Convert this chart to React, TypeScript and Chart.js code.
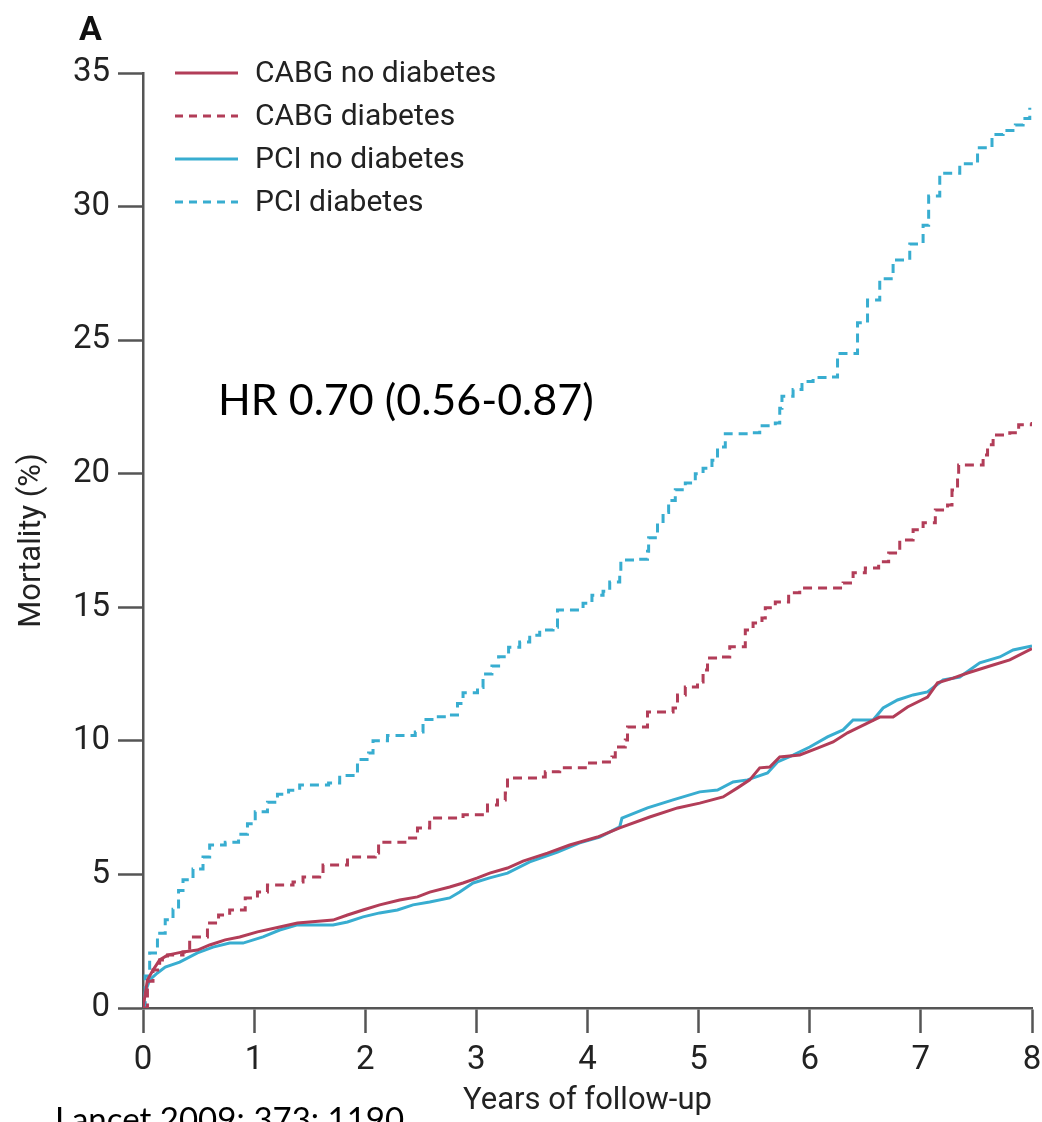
import React, { useEffect, useRef } from "react";
import { Chart, registerables } from "chart.js";

Chart.register(...registerables);

// Cumulative mortality (%) by years of follow-up, read as Kaplan-Meier style steps
const cabgNoDiabetesYears = [0, 0.04, 0.09, 0.15, 0.22, 0.36, 0.49, 0.6, 0.74, 0.87, 1.03, 1.23, 1.39, 1.71, 1.84, 1.98, 2.13, 2.31, 2.47, 2.58, 2.76, 2.88, 3.01, 3.12, 3.28, 3.42, 3.64, 3.84, 4.09, 4.29, 4.56, 4.81, 5.01, 5.22, 5.35, 5.46, 5.55, 5.64, 5.73, 5.91, 6.07, 6.21, 6.34, 6.45, 6.63, 6.75, 6.88, 7.06, 7.15, 7.29, 7.42, 7.65, 7.8, 8.0];
const cabgNoDiabetesMortality = [0, 1.05, 1.42, 1.8, 1.98, 2.1, 2.17, 2.36, 2.55, 2.66, 2.85, 3.03, 3.18, 3.29, 3.48, 3.67, 3.86, 4.04, 4.16, 4.34, 4.53, 4.68, 4.87, 5.05, 5.24, 5.5, 5.8, 6.1, 6.4, 6.74, 7.15, 7.49, 7.67, 7.9, 8.24, 8.54, 8.99, 9.02, 9.4, 9.47, 9.73, 9.96, 10.3, 10.52, 10.89, 10.89, 11.27, 11.64, 12.17, 12.35, 12.54, 12.84, 13.03, 13.45];

const cabgDiabetesYears = [0, 0.04, 0.09, 0.15, 0.22, 0.36, 0.42, 0.58, 0.68, 0.78, 0.92, 1.03, 1.12, 1.35, 1.44, 1.59, 1.62, 1.77, 1.84, 2.09, 2.12, 2.38, 2.47, 2.58, 2.88, 3.03, 3.1, 3.19, 3.26, 3.28, 3.55, 3.62, 3.75, 4.0, 4.11, 4.22, 4.25, 4.34, 4.36, 4.5, 4.54, 4.77, 4.81, 4.88, 4.99, 5.04, 5.08, 5.19, 5.28, 5.4, 5.42, 5.49, 5.57, 5.6, 5.69, 5.81, 5.91, 6.3, 6.39, 6.5, 6.62, 6.71, 6.8, 6.81, 6.93, 7.02, 7.13, 7.24, 7.28, 7.33, 7.34, 7.49, 7.56, 7.6, 7.65, 7.8, 7.88, 8.0];
const cabgDiabetesMortality = [0, 1.0, 1.42, 1.8, 1.98, 2.1, 2.66, 3.18, 3.48, 3.67, 4.12, 4.34, 4.6, 4.72, 4.9, 4.98, 5.35, 5.35, 5.65, 5.8, 6.2, 6.36, 6.74, 7.11, 7.23, 7.23, 7.6, 7.79, 8.05, 8.61, 8.65, 8.84, 8.99, 9.17, 9.21, 9.4, 9.77, 10.03, 10.52, 10.52, 11.08, 11.23, 11.72, 12.02, 12.2, 12.65, 13.1, 13.14, 13.52, 13.52, 14.15, 14.41, 14.6, 14.98, 15.2, 15.54, 15.72, 15.91, 16.29, 16.47, 16.7, 17.03, 17.07, 17.52, 17.9, 18.16, 18.64, 18.83, 19.39, 19.96, 20.33, 20.33, 20.7, 21.08, 21.45, 21.53, 21.83, 21.94];

const pciNoDiabetesYears = [0, 0.02, 0.06, 0.13, 0.2, 0.33, 0.49, 0.63, 0.78, 0.9, 1.08, 1.23, 1.39, 1.71, 1.84, 1.98, 2.13, 2.29, 2.43, 2.58, 2.76, 2.85, 2.97, 3.12, 3.28, 3.48, 3.73, 3.93, 4.11, 4.29, 4.31, 4.54, 4.77, 5.01, 5.17, 5.31, 5.44, 5.62, 5.71, 5.85, 6.0, 6.16, 6.3, 6.39, 6.57, 6.66, 6.79, 6.93, 7.06, 7.2, 7.35, 7.53, 7.71, 7.83, 8.0];
const pciNoDiabetesMortality = [0, 0.6, 1.05, 1.31, 1.53, 1.72, 2.06, 2.28, 2.43, 2.43, 2.66, 2.92, 3.11, 3.11, 3.22, 3.41, 3.56, 3.67, 3.86, 3.97, 4.12, 4.34, 4.68, 4.87, 5.05, 5.47, 5.84, 6.18, 6.4, 6.78, 7.11, 7.49, 7.79, 8.09, 8.16, 8.46, 8.54, 8.8, 9.21, 9.47, 9.77, 10.15, 10.41, 10.78, 10.78, 11.23, 11.53, 11.72, 11.83, 12.28, 12.39, 12.92, 13.14, 13.4, 13.55];

const pciDiabetesYears = [0, 0.02, 0.06, 0.13, 0.2, 0.27, 0.32, 0.36, 0.45, 0.54, 0.6, 0.74, 0.86, 0.94, 1.01, 1.12, 1.21, 1.31, 1.41, 1.67, 1.77, 1.93, 2.03, 2.07, 2.2, 2.45, 2.52, 2.63, 2.76, 2.83, 2.88, 3.01, 3.06, 3.14, 3.2, 3.29, 3.39, 3.48, 3.57, 3.69, 3.73, 3.84, 3.96, 4.04, 4.14, 4.2, 4.29, 4.3, 4.45, 4.54, 4.55, 4.63, 4.68, 4.73, 4.79, 4.88, 4.97, 5.04, 5.12, 5.17, 5.24, 5.48, 5.55, 5.69, 5.73, 5.75, 5.85, 5.93, 6.03, 6.16, 6.25, 6.43, 6.52, 6.63, 6.75, 6.9, 7.02, 7.07, 7.17, 7.35, 7.49, 7.51, 7.64, 7.74, 7.85, 7.92, 7.98];
const pciDiabetesMortality = [0, 1.2, 2.06, 2.8, 3.3, 3.7, 4.4, 4.8, 5.2, 5.65, 6.1, 6.2, 6.5, 6.9, 7.35, 7.7, 8.0, 8.15, 8.35, 8.42, 8.7, 9.3, 9.55, 10.0, 10.2, 10.33, 10.8, 10.9, 10.97, 11.4, 11.8, 12.0, 12.5, 12.8, 13.15, 13.5, 13.7, 13.95, 14.15, 14.25, 14.9, 14.9, 15.15, 15.45, 15.6, 15.95, 16.3, 16.77, 16.8, 17.1, 17.6, 18.15, 18.55, 19.0, 19.4, 19.65, 20.0, 20.2, 20.5, 21.0, 21.5, 21.53, 21.8, 21.9, 22.45, 22.9, 23.15, 23.45, 23.6, 23.62, 24.5, 25.65, 26.5, 27.3, 28.0, 28.6, 29.3, 30.4, 31.25, 31.6, 31.6, 32.2, 32.7, 32.85, 33.05, 33.3, 33.7];

const seriesLabels = ["CABG no diabetes", "CABG diabetes", "PCI no diabetes", "PCI diabetes"];
const xAxisTitle = "Years of follow-up";
const yAxisTitle = "Mortality (%)";
const panelLetter = "A";
const hazardRatioText = "HR 0.70 (0.56-0.87)";
const sourceText = "Lancet 2009; 373: 1190";

const CABG_COLOR = "#b23d58";
const PCI_COLOR = "#38add0";
const AXIS_COLOR = "#555555";
const TEXT_COLOR = "#222222";
const DASH = [9, 6];
const UI_FONT = "Roboto, 'Noto Sans', sans-serif";
const NOTE_FONT = "Lato, 'Open Sans', sans-serif";

const toPoints = (xs: number[], ys: number[]) => xs.map((x, i) => ({ x, y: ys[i] }));

const annotationPlugin = {
  id: "panelAnnotations",
  afterDraw(chart: any) {
    const { ctx, chartArea } = chart;
    ctx.save();

    // Legend in the upper-left corner of the plot
    chart.data.datasets.forEach((ds: any, i: number) => {
      const y = chartArea.top + i * 43;
      const x0 = chartArea.left + 32;
      ctx.strokeStyle = ds.borderColor;
      ctx.lineWidth = 3;
      ctx.setLineDash(ds.borderDash && ds.borderDash.length ? [8, 6] : []);
      ctx.beginPath();
      ctx.moveTo(x0, y);
      ctx.lineTo(x0 + 63, y);
      ctx.stroke();
      ctx.setLineDash([]);
      ctx.fillStyle = TEXT_COLOR;
      ctx.font = `30px ${UI_FONT}`;
      ctx.textBaseline = "middle";
      ctx.textAlign = "left";
      ctx.fillText(ds.label, x0 + 80, y + 1);
    });

    // Panel letter
    ctx.fillStyle = "#111111";
    ctx.font = `bold 34px ${UI_FONT}`;
    ctx.textBaseline = "alphabetic";
    ctx.fillText(panelLetter, 79, 40);

    // Hazard ratio note
    ctx.fillStyle = "#000000";
    ctx.font = `43px ${NOTE_FONT}`;
    ctx.fillText(hazardRatioText, chartArea.left + 75, 415);

    // Source reference
    ctx.font = `33px ${NOTE_FONT}`;
    ctx.fillText(sourceText, 55, 1131);

    ctx.restore();
  },
};

export default function App() {
  const canvasRef = useRef<HTMLCanvasElement | null>(null);

  useEffect(() => {
    if (!canvasRef.current) return;
    const common = {
      pointRadius: 0,
      borderWidth: 3,
      fill: false,
    };
    const chart = new Chart(canvasRef.current, {
      type: "line",
      data: {
        datasets: [
          { ...common, label: seriesLabels[0], data: toPoints(cabgNoDiabetesYears, cabgNoDiabetesMortality), borderColor: CABG_COLOR, borderDash: [], stepped: false },
          { ...common, label: seriesLabels[1], data: toPoints(cabgDiabetesYears, cabgDiabetesMortality), borderColor: CABG_COLOR, borderDash: DASH, stepped: true },
          { ...common, label: seriesLabels[2], data: toPoints(pciNoDiabetesYears, pciNoDiabetesMortality), borderColor: PCI_COLOR, borderDash: [], stepped: false },
          { ...common, label: seriesLabels[3], data: toPoints(pciDiabetesYears, pciDiabetesMortality), borderColor: PCI_COLOR, borderDash: DASH, stepped: true },
        ],
      },
      options: {
        animation: false,
        responsive: false,
        maintainAspectRatio: false,
        layout: { padding: { left: 0, top: 73, right: 10, bottom: 0 } },
        plugins: {
          legend: { display: false },
          tooltip: { enabled: false },
        },
        scales: {
          x: {
            type: "linear",
            min: 0,
            max: 8,
            ticks: {
              stepSize: 1,
              color: TEXT_COLOR,
              padding: 8,
              font: { family: UI_FONT, size: 33 },
            },
            grid: {
              drawOnChartArea: false,
              drawTicks: true,
              tickLength: 25,
              tickWidth: 2.5,
              tickColor: AXIS_COLOR,
            },
            border: { display: true, color: AXIS_COLOR, width: 2.5 },
            title: {
              display: true,
              text: xAxisTitle,
              color: TEXT_COLOR,
              font: { family: UI_FONT, size: 31 },
              padding: { top: 0, bottom: 2 },
            },
            afterFit: (scale: any) => {
              scale.height = 114;
              scale.paddingLeft = 0;
              scale.paddingRight = 0;
            },
          },
          y: {
            type: "linear",
            min: 0,
            max: 35,
            ticks: {
              stepSize: 5,
              color: TEXT_COLOR,
              padding: 8,
              font: { family: UI_FONT, size: 33 },
            },
            grid: {
              drawOnChartArea: false,
              drawTicks: true,
              tickLength: 25,
              tickWidth: 2.5,
              tickColor: AXIS_COLOR,
            },
            border: { display: true, color: AXIS_COLOR, width: 2.5 },
            title: {
              display: true,
              text: yAxisTitle,
              color: TEXT_COLOR,
              font: { family: UI_FONT, size: 31 },
              padding: { top: 14, bottom: 0 },
            },
            afterFit: (scale: any) => {
              scale.width = 143;
            },
          },
        },
      },
      plugins: [annotationPlugin],
    });
    return () => chart.destroy();
  }, []);

  return (
    <div style={{ position: "fixed", left: 0, top: 0, width: 1042, height: 1122, background: "#ffffff" }}>
      <canvas ref={canvasRef} width={1042} height={1122} style={{ width: 1042, height: 1122, display: "block" }} />
    </div>
  );
}
